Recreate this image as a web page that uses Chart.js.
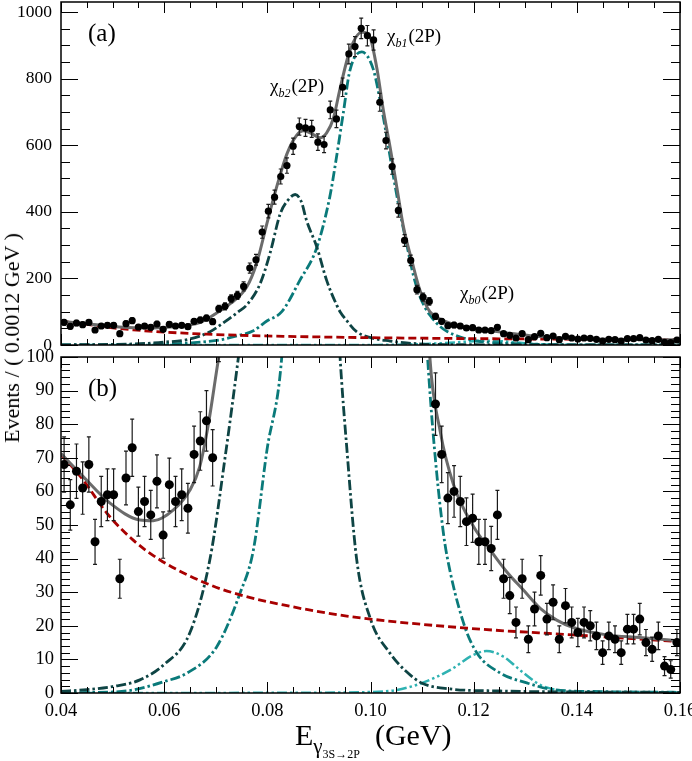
<!DOCTYPE html>
<html><head><meta charset="utf-8">
<script src="https://cdn.jsdelivr.net/npm/chart.js"></script>
<style>
html,body{margin:0;padding:0;background:#fff;overflow:hidden;width:692px;height:761px;}
#wrap{position:relative;width:692px;height:761px;overflow:hidden;font-family:'Liberation Serif','Times New Roman',serif;color:#000;}
canvas{position:absolute;left:0;}
.t{position:absolute;white-space:nowrap;line-height:1;}
.lab{font-size:19px;}
.s{font-style:italic;font-size:12px;position:relative;top:5px;margin:0 1px 0 0;}
</style></head><body>
<div id="wrap">
<canvas id="cTop" width="740" height="383" style="top:-18px"></canvas>
<canvas id="cBot" width="740" height="396" style="top:337px"></canvas>
<div class="t" style="left:88px;top:20px;font-size:25px">(a)</div>
<div class="t" style="left:88px;top:375px;font-size:25px">(b)</div>
<div class="t lab" style="left:270px;top:76px">χ<span class="s">b2</span>(2P)</div>
<div class="t lab" style="left:387px;top:26px">χ<span class="s">b1</span>(2P)</div>
<div class="t lab" style="left:460px;top:283px">χ<span class="s">b0</span>(2P)</div>
<div class="t" style="left:12px;top:338px;font-size:22px;transform:translate(-50%,-50%) rotate(-90deg)">Events / ( 0.0012 GeV )</div>
<div class="t" style="left:295px;top:720px;"><span style="font-size:30px">E</span><span style="font-size:21px;position:relative;top:8px">γ<span style="font-size:12px;position:relative;top:5px">3S→2P</span></span><span style="font-size:30px">&nbsp;&nbsp;(GeV)</span></div>
</div>
<script>
// ---- data ----
const binCenters = [0.0406,0.0418,0.0430,0.0442,0.0454,0.0466,0.0478,0.0490,0.0502,0.0514,
0.0526,0.0538,0.0550,0.0562,0.0574,0.0586,0.0598,0.0610,0.0622,0.0634,
0.0646,0.0658,0.0670,0.0682,0.0694,0.0706,0.0718,0.0730,0.0742,0.0754,
0.0766,0.0778,0.0790,0.0802,0.0814,0.0826,0.0838,0.0850,0.0862,0.0874,
0.0886,0.0898,0.0910,0.0922,0.0934,0.0946,0.0958,0.0970,0.0982,0.0994,
0.1006,0.1018,0.1030,0.1042,0.1054,0.1066,0.1078,0.1090,0.1102,0.1114,
0.1126,0.1138,0.1150,0.1162,0.1174,0.1186,0.1198,0.1210,0.1222,0.1234,
0.1246,0.1258,0.1270,0.1282,0.1294,0.1306,0.1318,0.1330,0.1342,0.1354,
0.1366,0.1378,0.1390,0.1402,0.1414,0.1426,0.1438,0.1450,0.1462,0.1474,
0.1486,0.1498,0.1510,0.1522,0.1534,0.1546,0.1558,0.1570,0.1582,0.1594];
const counts = [68,56,66,61,68,45,57,59,59,34,
64,73,54,57,53,63,47,62,57,59,
55,71,75,81,70,109,116,139,149,176,
231,256,339,402,444,506,539,597,656,652,
649,609,602,706,679,774,874,896,951,929,
916,729,614,536,404,314,254,166,144,131,
86,71,58,60,57,51,52,45,45,43,
53,34,29,21,34,16,25,35,22,27,
16,26,21,18,21,20,17,12,17,16,
12,19,19,22,15,13,17,8,7,15];
const errors = [8.2,7.5,8.1,7.8,8.2,6.7,7.5,7.7,7.7,5.8,
8.0,8.5,7.3,7.5,7.3,7.9,6.9,7.9,7.5,7.7,
7.4,8.4,8.7,9.0,8.4,10.4,10.8,11.8,12.2,13.3,
15.2,16.0,18.4,20.0,21.1,22.5,23.2,24.4,25.6,25.5,
25.5,24.7,24.5,26.6,26.1,27.8,29.6,29.9,30.8,30.5,
30.3,27.0,24.8,23.2,20.1,17.7,15.9,12.9,12.0,11.4,
9.3,8.4,7.6,7.7,7.5,7.1,7.2,6.7,6.7,6.6,
7.3,5.8,5.4,4.6,5.8,4.0,5.0,5.9,4.7,5.2,
4.0,5.1,4.6,4.2,4.6,4.5,4.1,3.5,4.1,4.0,
3.5,4.4,4.4,4.7,3.9,3.6,4.1,2.8,2.6,3.9];

// total fit
const fitX = [0.0400,0.0443,0.0495,0.0553,0.0579,0.0618,0.0650,0.0669,0.0686,0.0699,0.0728,0.0760,0.0779,0.0799,0.0818,0.0838,0.0857,0.0870,0.0886,0.0902,0.0915,0.0928,0.0941,0.0960,0.0983,0.0996,0.1012,0.1025,0.1038,0.1051,0.1064,0.1080,0.1096,0.1115,0.1135,0.1161,0.1200,0.1232,0.1264,0.1296,0.1329,0.1361,0.1393,0.1458,0.1522,0.1600];
const fitY = [71.3,64.4,56.5,51.5,51.3,54.5,60.4,67.4,80.3,93.2,124,174,244,364,474,574,630,643,635,622,637,680,770,884,939,934,834,704,594,474,354,254,164,100,78,62,49.5,42.6,36.1,30.7,25.2,21.7,19.5,17.3,16.5,15.5];
// background
const bkgX = [0.0400,0.0443,0.0489,0.0540,0.0592,0.0682,0.0747,0.0831,0.0954,0.1187,0.1393,0.1600];
const bkgY = [71,63.4,53.5,45.5,39.6,32.6,29.2,26.2,22.9,19.3,17.3,15.3];
// chi_b2(2P)
const b2X = [0.0400,0.0450,0.0500,0.0553,0.0600,0.0650,0.0689,0.0718,0.0744,0.0760,0.0786,0.0805,0.0825,0.0840,0.0854,0.0866,0.0876,0.0896,0.0915,0.0935,0.0941,0.0954,0.0973,0.1000,0.1038,0.1070,0.1100,0.1154,0.1250,0.1400,0.1600];
const b2Y = [0.5,1,1.9,3.9,8.5,18,40,70,100,120,184,274,394,435,452,430,374,294,194,118,100,73,40,22,11.8,6.3,2.9,1.2,0.6,0.3,0.2];
// chi_b1(2P)
const b1X = [0.0400,0.0500,0.0540,0.0600,0.0644,0.0702,0.0747,0.0773,0.0799,0.0828,0.0863,0.0896,0.0921,0.0931,0.0947,0.0960,0.0983,0.1005,0.1018,0.1031,0.1044,0.1057,0.1070,0.1083,0.1096,0.1106,0.1115,0.1128,0.1141,0.1148,0.1180,0.1206,0.1251,0.1303,0.1354,0.1450,0.1600];
const b1Y = [0.1,0.3,0.9,3.4,5.9,13.8,29.7,42.6,72,100,194,293,444,534,694,824,880,830,740,630,510,400,304,210,145,112,90,66,48,41,21,12,6,3,1,0.4,0.2];
// chi_b0(2P)
const b0X = [0.0400,0.0800,0.1000,0.1051,0.1102,0.1154,0.1199,0.1225,0.1258,0.1290,0.1329,0.1361,0.1400,0.1600];
const b0Y = [0,0.05,0.3,0.9,3.1,6.8,11.3,12.5,10.8,6.8,2.4,0.9,0.3,0];

const xTickValues = [0.04,0.06,0.08,0.10,0.12,0.14,0.16];
const xTickLabels = ['0.04','0.06','0.08','0.10','0.12','0.14','0.16'];
const yTopTicks = [0,200,400,600,800,1000];
const yBotTicks = [0,10,20,30,40,50,60,70,80,90,100];

// ---- helpers ----
const pair = (xa, ya) => xa.map((x, i) => ({x: x, y: ya[i]}));
const FAM = "'Liberation Serif','Times New Roman',serif";

const framePlugin = {
  id: 'frame',
  afterDraw(chart, args, o) {
    const {ctx, chartArea: a} = chart;
    const xs = chart.scales.x, ys = chart.scales.y;
    ctx.save();
    ctx.strokeStyle = '#000';
    ctx.lineWidth = 1;
    ctx.beginPath();
    for (let k = 0; k <= 24; k++) {
      const v = 0.04 + k * 0.005;
      const len = (k % 4 === 0) ? 11 : 6;
      const px = Math.round(xs.getPixelForValue(v)) + 0.5;
      ctx.moveTo(px, a.bottom); ctx.lineTo(px, a.bottom - len);
      ctx.moveTo(px, a.top); ctx.lineTo(px, a.top + len);
    }
    for (let k = 0; k * o.yMinor <= o.yMax; k++) {
      const v = k * o.yMinor;
      const len = (k % o.yEvery === 0) ? 17 : 9;
      const py = Math.round(ys.getPixelForValue(v)) + 0.5;
      ctx.moveTo(a.left, py); ctx.lineTo(a.left + len, py);
      ctx.moveTo(a.right, py); ctx.lineTo(a.right - len, py);
    }
    ctx.stroke();
    ctx.lineWidth = 1.5;
    ctx.strokeRect(a.left, a.top, a.right - a.left, a.bottom - a.top);
    ctx.restore();
  }
};

function errPlugin(cap) {
  return {
    id: 'errbars',
    beforeDatasetDraw(chart, args) {
      if (args.index !== 0) return;
      const {ctx, chartArea: a} = chart;
      const xs = chart.scales.x, ys = chart.scales.y;
      ctx.save();
      ctx.beginPath();
      ctx.rect(a.left, a.top, a.right - a.left, a.bottom - a.top);
      ctx.clip();
      ctx.strokeStyle = '#1a1a1a';
      ctx.lineWidth = 1.2;
      ctx.beginPath();
      for (let i = 0; i < binCenters.length; i++) {
        const px = xs.getPixelForValue(binCenters[i]);
        const y1 = ys.getPixelForValue(counts[i] - errors[i]);
        const y2 = ys.getPixelForValue(counts[i] + errors[i]);
        ctx.moveTo(px, y1); ctx.lineTo(px, y2);
        ctx.moveTo(px - cap, y1); ctx.lineTo(px + cap, y1);
        ctx.moveTo(px - cap, y2); ctx.lineTo(px + cap, y2);
      }
      ctx.stroke();
      ctx.restore();
    }
  };
}

function curve(data, color, width, dash) {
  return {data: data, borderColor: color, borderWidth: width, borderDash: dash || [],
    pointRadius: 0, fill: false, cubicInterpolationMode: 'monotone', showLine: true};
}

function makeChart(id, yMax, yTicks, yMinor, yEvery, pointR, showX, yFont, yPad) {
  return new Chart(document.getElementById(id), {
    type: 'line',
    data: {datasets: [
      {data: pair(binCenters, counts), showLine: false, pointRadius: pointR,
       pointBackgroundColor: '#000', pointBorderWidth: 0, borderColor: '#000', pointStyle: 'circle'},
      curve(pair(fitX, fitY), '#6b6b6b', 3),
      curve(pair(bkgX, bkgY), '#a80000', 2.8, [8, 4]),
      curve(pair(b2X, b2Y), '#0e4444', 2.8, [10, 3, 2.5, 3]),
      curve(pair(b1X, b1Y), '#0a7a7a', 2.8, [10, 3, 2.5, 3]),
      curve(pair(b0X, b0Y), '#2fb2b2', 2.5, [10, 3, 2.5, 3, 2.5, 3])
    ]},
    options: {
      responsive: false, animation: false, events: [],
      layout: {padding: {top: 20, right: 60, bottom: showX ? 0 : 20, left: 0}},
      scales: {
        x: {type: 'linear', min: 0.04, max: 0.16, display: showX,
            grid: {display: false, drawTicks: false}, border: {display: false},
            afterBuildTicks: s => { s.ticks = xTickValues.map(v => ({value: v})); },
            ticks: {padding: 7, font: {family: FAM, size: 18.5}, color: '#000', maxRotation: 0, autoSkip: false,
                    callback: (v, i) => xTickLabels[i]},
            afterFit: s => { if (showX) s.height = 40; }},
        y: {type: 'linear', min: 0, max: yMax,
            grid: {display: false, drawTicks: false}, border: {display: false},
            afterBuildTicks: s => { s.ticks = yTicks.map(v => ({value: v})); },
            ticks: {padding: yPad, font: {family: FAM, size: yFont}, color: '#000', autoSkip: false,
                    callback: (v, i) => String(yTicks[i])},
            afterFit: s => { s.width = 61; }}
      },
      plugins: {legend: {display: false}, tooltip: {enabled: false},
                frame: {yMax: yMax, yMinor: yMinor, yEvery: yEvery}}
    },
    plugins: [framePlugin, errPlugin(2)]
  });
}

makeChart('cTop', 1030, yTopTicks, 50, 4, 3.6, false, 17.5, 9);
makeChart('cBot', 100, yBotTicks, 2, 5, 4.5, true, 18.5, 7);
</script>
</body></html>
